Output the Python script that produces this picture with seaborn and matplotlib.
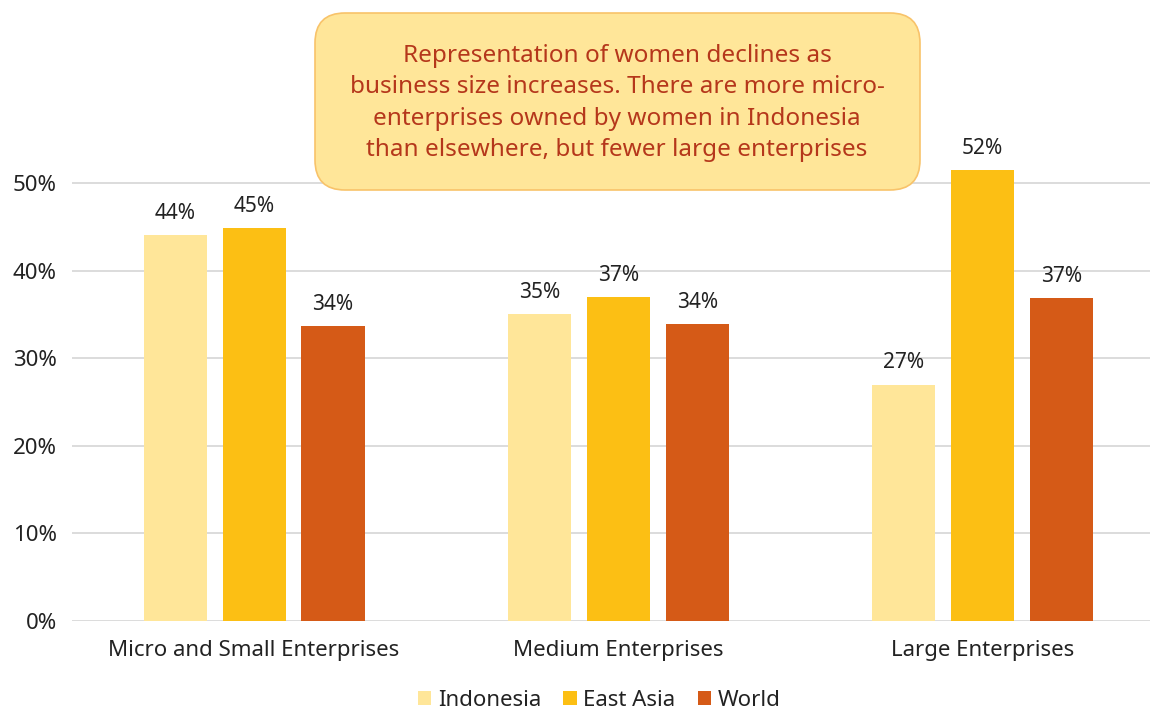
import pandas as pd
import seaborn as sns
import matplotlib.pyplot as plt
from matplotlib.patches import FancyBboxPatch
from matplotlib.ticker import PercentFormatter

# data
categories = ["Micro and Small Enterprises", "Medium Enterprises", "Large Enterprises"]
indonesia = [0.441, 0.351, 0.270]
east_asia = [0.449, 0.370, 0.515]
world = [0.337, 0.339, 0.369]
series_names = ["Indonesia", "East Asia", "World"]
colors = ["#FFE699", "#FCBF14", "#D55A17"]

note = ("Representation of women declines as\n"
        "business size increases. There are more micro-\n"
        "enterprises owned by women in Indonesia\n"
        "than elsewhere, but fewer large enterprises")

df = pd.DataFrame({
    "category": categories * 3,
    "series": [s for s in series_names for _ in categories],
    "value": indonesia + east_asia + world,
})

sns.set_style("white")
plt.rcParams["font.family"] = ["Noto Sans", "DejaVu Sans"]

fig = plt.figure(figsize=(11.5, 7.11), dpi=100)
ax = fig.add_axes([72 / 1150, 90 / 711, 1 - 72 / 1150, (621 - 95.6) / 711])

sns.barplot(data=df, x="category", y="value", hue="series", order=categories,
            hue_order=series_names, palette=colors, width=0.65, gap=0.2,
            saturation=1, linewidth=0, ax=ax, legend=True)

for cont in ax.containers:
    ax.bar_label(cont, labels=[f"{v * 100:.0f}%" for v in cont.datavalues],
                 padding=8, fontsize=15, color="#222222")

ax.set_ylim(0, 0.6)
ax.set_xlim(-0.5, 2.46)
ax.set_yticks([0, 0.1, 0.2, 0.3, 0.4, 0.5])
ax.yaxis.set_major_formatter(PercentFormatter(1.0, decimals=0))
ax.grid(axis="y", color="#D9D9D9", linewidth=1.3)
ax.set_axisbelow(True)
for s in ax.spines.values():
    s.set_visible(False)
ax.set_xlabel("")
ax.set_ylabel("")
ax.tick_params(axis="both", length=0, labelsize=16, labelcolor="#222222")
ax.tick_params(axis="x", pad=14)
ax.tick_params(axis="y", pad=11)

ax.legend(loc="center", bbox_to_anchor=(0.489, -0.151), ncol=3,
          frameon=False, fontsize=16, handlelength=0.6, handleheight=0.6,
          handletextpad=0.3, columnspacing=1.0, labelcolor="#222222")

# annotation box
box = FancyBboxPatch((3.15, 5.21), 6.05, 1.77,
                     boxstyle="round,pad=0,rounding_size=0.3",
                     transform=fig.dpi_scale_trans, facecolor="#FFE699",
                     edgecolor="#F8C36A", linewidth=1.2, zorder=5)
fig.patches.append(box)
fig.text(617 / 1150, (711 - 103) / 711, note, ha="center", va="center",
         fontsize=17.5, color="#B5371B", linespacing=1.4, zorder=6)

plt.savefig("out.png", dpi=100)
